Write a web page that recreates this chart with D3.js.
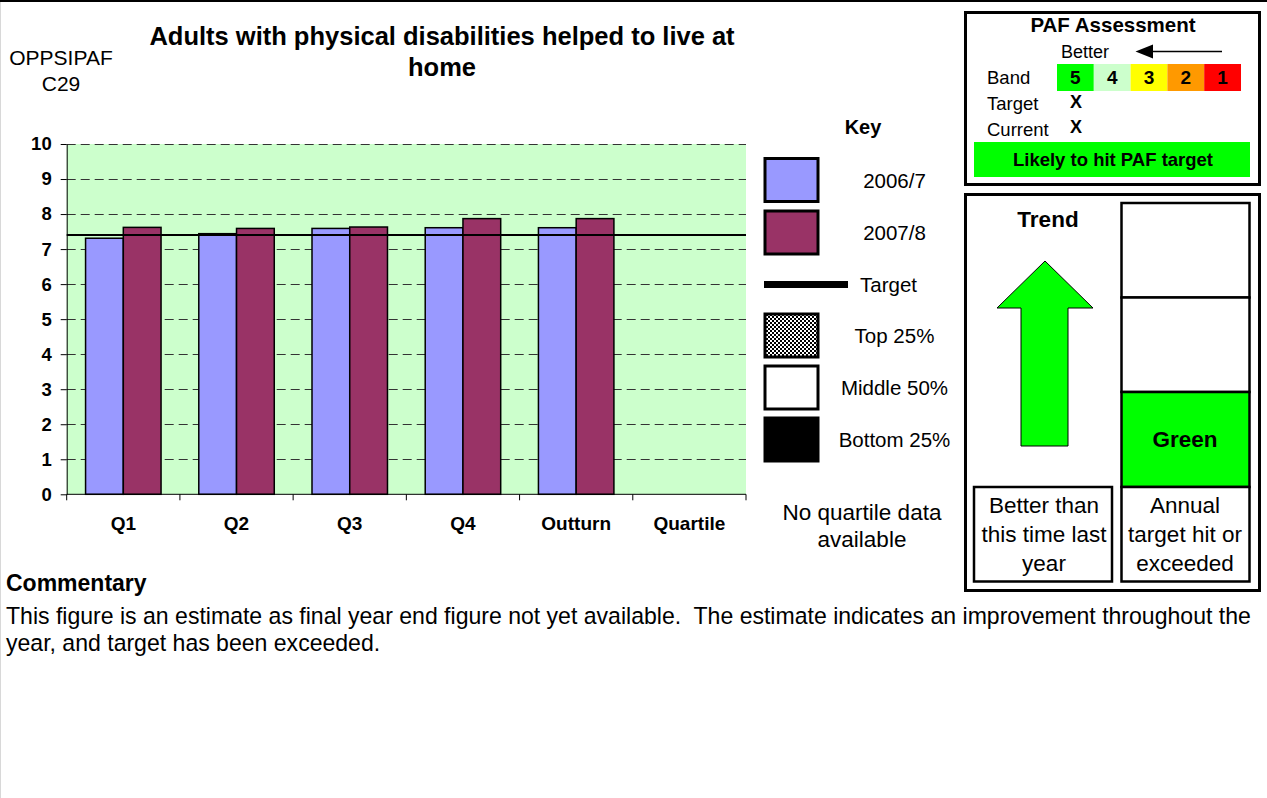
<!DOCTYPE html>
<html>
<head>
<meta charset="utf-8">
<script src="https://cdn.jsdelivr.net/npm/d3@7"></script>
<style>
  html, body { margin: 0; padding: 0; background: #fff; }
  svg { display: block; font-family: "Liberation Sans", Arial, sans-serif; }
  svg text { font-family: "Liberation Sans", Arial, sans-serif; }
</style>
</head>
<body>
<svg id="chart" width="1267" height="798"></svg>
<script>
// ---- data ----
const categories = ["Q1", "Q2", "Q3", "Q4", "Outturn", "Quartile"];
const values2006 = [7.31, 7.44, 7.59, 7.61, 7.61, null];
const values2007 = [7.62, 7.59, 7.63, 7.87, 7.87, null];
const targetValue = 7.4;
const yTickValues = [0, 1, 2, 3, 4, 5, 6, 7, 8, 9, 10];
const seriesNames = ["2006/7", "2007/8"];
const quartileNames = ["Top 25%", "Middle 50%", "Bottom 25%"];
const bandLabels = ["5", "4", "3", "2", "1"];
const bandColors = ["#00ff00", "#ccffcc", "#ffff00", "#ff9900", "#ff0000"];

const svg = d3.select("#chart");
const W = 1267, H = 798;

// page frame
svg.append("line").attr("x1", 0.5).attr("x2", 0.5).attr("y1", 0).attr("y2", H)
  .attr("stroke", "#d8d8d8").attr("stroke-width", 1);
svg.append("line").attr("x1", 0).attr("x2", W).attr("y1", 1).attr("y2", 1)
  .attr("stroke", "#000").attr("stroke-width", 2);

// defs: checker pattern
const defs = svg.append("defs");
const pat = defs.append("pattern").attr("id", "checker").attr("patternUnits", "userSpaceOnUse")
  .attr("width", 4).attr("height", 4);
pat.append("rect").attr("width", 4).attr("height", 4).attr("fill", "#fff");
pat.append("rect").attr("x", 0).attr("y", 0).attr("width", 2).attr("height", 2).attr("fill", "#000");
pat.append("rect").attr("x", 2).attr("y", 2).attr("width", 2).attr("height", 2).attr("fill", "#000");

// titles
svg.append("text").attr("x", 61).attr("y", 65).attr("text-anchor", "middle")
  .attr("font-size", 21).text("OPPSIPAF");
svg.append("text").attr("x", 61).attr("y", 91).attr("text-anchor", "middle")
  .attr("font-size", 21).text("C29");
const title = svg.append("text").attr("text-anchor", "middle").attr("font-weight", "bold").attr("font-size", 25.5);
title.append("tspan").attr("x", 442).attr("y", 45).text("Adults with physical disabilities helped to live at");
title.append("tspan").attr("x", 442).attr("y", 76).text("home");

// ---- chart ----
const plot = { left: 66.7, right: 746, top: 144, bottom: 494.3 };
const x = d3.scaleBand().domain(categories).range([plot.left, plot.right]).paddingInner(0).paddingOuter(0);
const inner = d3.scaleBand().domain(seriesNames).range([0, x.bandwidth()]).paddingInner(0).paddingOuter(0.5);
const y = d3.scaleLinear().domain([0, 10]).range([plot.bottom, plot.top]);

const g = svg.append("g");
g.append("rect").attr("x", plot.left).attr("y", plot.top)
  .attr("width", plot.right - plot.left).attr("height", plot.bottom - plot.top).attr("fill", "#ccffcc");

// gridlines
g.selectAll("line.grid").data(yTickValues.filter(d => d > 0)).join("line")
  .attr("class", "grid")
  .attr("x1", plot.left).attr("x2", plot.right)
  .attr("y1", d => Math.round(y(d)) + 0.5).attr("y2", d => Math.round(y(d)) + 0.5)
  .attr("stroke", "#333").attr("stroke-width", 1).attr("stroke-dasharray", "9,5");

// bars
const seriesData = [values2006, values2007];
const seriesFill = ["#9999ff", "#993366"];
seriesData.forEach((vals, si) => {
  g.selectAll("rect.s" + si).data(categories.map((c, i) => ({ c, v: vals[i] })).filter(d => d.v != null))
    .join("rect").attr("class", "s" + si)
    .attr("x", d => x(d.c) + inner(seriesNames[si]))
    .attr("y", d => y(d.v))
    .attr("width", inner.bandwidth())
    .attr("height", d => y(0) - y(d.v))
    .attr("fill", seriesFill[si]).attr("stroke", "#000").attr("stroke-width", 1.5);
});

// target line
g.append("line").attr("x1", plot.left).attr("x2", plot.right)
  .attr("y1", y(targetValue)).attr("y2", y(targetValue))
  .attr("stroke", "#000").attr("stroke-width", 2);

// y axis
const yAxis = d3.axisLeft(y).tickValues(yTickValues).tickSize(6).tickSizeOuter(0).tickPadding(9);
const yg = g.append("g").attr("transform", `translate(${plot.left},0)`).call(yAxis)
  .attr("font-size", 18.5).attr("font-family", "Liberation Sans, Arial, sans-serif");
yg.select(".domain").attr("stroke", "#000");
yg.selectAll("text").attr("font-weight", "bold").attr("fill", "#000");

// x axis (ticks at category boundaries)
const xg = g.append("g").attr("transform", `translate(0,${plot.bottom})`);
xg.append("line").attr("x1", plot.left).attr("x2", plot.right).attr("stroke", "#000").attr("stroke-width", 1);
const boundaries = categories.map(c => x(c)).concat([plot.right]);
xg.selectAll("line.tk").data(boundaries).join("line").attr("class", "tk")
  .attr("x1", d => d).attr("x2", d => d).attr("y1", 0).attr("y2", 6).attr("stroke", "#000");
xg.selectAll("text").data(categories).join("text")
  .attr("x", d => x(d) + x.bandwidth() / 2).attr("y", 35.5)
  .attr("text-anchor", "middle").attr("font-size", 19).attr("font-weight", "bold").text(d => d);

// ---- key ----
svg.append("text").attr("x", 863).attr("y", 134).attr("text-anchor", "middle")
  .attr("font-size", 20).attr("font-weight", "bold").text("Key");
const keyBoxes = [
  { y: 158.5, fill: seriesFill[0], label: seriesNames[0] },
  { y: 211, fill: seriesFill[1], label: seriesNames[1] },
  { y: 314, fill: "url(#checker)", label: quartileNames[0] },
  { y: 366, fill: "#fff", label: quartileNames[1] },
  { y: 418, fill: "#000", label: quartileNames[2] }
];
svg.selectAll("rect.key").data(keyBoxes).join("rect").attr("class", "key")
  .attr("x", 765).attr("y", d => d.y).attr("width", 53).attr("height", 43)
  .attr("fill", d => d.fill).attr("stroke", "#000").attr("stroke-width", 3);
svg.selectAll("text.key").data(keyBoxes).join("text").attr("class", "key")
  .attr("x", 894.5).attr("y", d => d.y + 29).attr("text-anchor", "middle")
  .attr("font-size", 20.5).text(d => d.label);
svg.append("rect").attr("x", 764).attr("y", 281).attr("width", 84).attr("height", 7).attr("fill", "#000");
svg.append("text").attr("x", 860).attr("y", 292).attr("font-size", 20.5).text("Target");
svg.append("text").attr("x", 862).attr("y", 520).attr("text-anchor", "middle").attr("font-size", 22.5).text("No quartile data");
svg.append("text").attr("x", 862).attr("y", 547).attr("text-anchor", "middle").attr("font-size", 22.5).text("available");

// ---- PAF assessment box ----
svg.append("rect").attr("x", 965.5).attr("y", 12.5).attr("width", 294).attr("height", 172)
  .attr("fill", "#fff").attr("stroke", "#000").attr("stroke-width", 3);
svg.append("text").attr("x", 1113).attr("y", 32).attr("text-anchor", "middle")
  .attr("font-size", 20.5).attr("font-weight", "bold").text("PAF Assessment");
svg.append("text").attr("x", 1061).attr("y", 58).attr("font-size", 18).text("Better");
svg.append("line").attr("x1", 1150).attr("x2", 1222).attr("y1", 51.5).attr("y2", 51.5)
  .attr("stroke", "#000").attr("stroke-width", 1.5);
svg.append("path").attr("d", "M1135.5,51.5 L1153,44.5 L1153,58.5 Z").attr("fill", "#000");
svg.append("text").attr("x", 987).attr("y", 84).attr("font-size", 18.5).text("Band");
const bandX = d3.scaleBand().domain(bandLabels).range([1057, 1241]);
svg.selectAll("rect.band").data(bandLabels).join("rect").attr("class", "band")
  .attr("x", d => bandX(d)).attr("y", 64).attr("width", bandX.bandwidth()).attr("height", 27)
  .attr("fill", (d, i) => bandColors[i]);
svg.selectAll("text.band").data(bandLabels).join("text").attr("class", "band")
  .attr("x", d => bandX(d) + bandX.bandwidth() / 2).attr("y", 84).attr("text-anchor", "middle")
  .attr("font-size", 19).attr("font-weight", "bold").text(d => d);
svg.append("text").attr("x", 987).attr("y", 110).attr("font-size", 18.5).text("Target");
svg.append("text").attr("x", 987).attr("y", 136).attr("font-size", 18.5).text("Current");
svg.append("text").attr("x", 1076).attr("y", 108).attr("text-anchor", "middle")
  .attr("font-size", 18).attr("font-weight", "bold").text("X");
svg.append("text").attr("x", 1076).attr("y", 133).attr("text-anchor", "middle")
  .attr("font-size", 18).attr("font-weight", "bold").text("X");
svg.append("rect").attr("x", 974).attr("y", 142).attr("width", 276).attr("height", 35).attr("fill", "#00ff00");
svg.append("text").attr("x", 1113).attr("y", 166).attr("text-anchor", "middle")
  .attr("font-size", 18.5).attr("font-weight", "bold").text("Likely to hit PAF target");

// ---- trend / RAG box ----
svg.append("rect").attr("x", 965.5).attr("y", 194.5).attr("width", 294).attr("height", 396)
  .attr("fill", "#fff").attr("stroke", "#000").attr("stroke-width", 3);
svg.append("text").attr("x", 1048).attr("y", 227).attr("text-anchor", "middle")
  .attr("font-size", 22.5).attr("font-weight", "bold").text("Trend");
svg.append("path")
  .attr("d", "M1045,261 L1093,308 L1068,308 L1068,446 L1021,446 L1021,308 L997,308 Z")
  .attr("fill", "#00ff00").attr("stroke", "#000").attr("stroke-width", 1);
const ragRows = [
  { y0: 203, y1: 297.5, fill: "#fff" },
  { y0: 297.5, y1: 392, fill: "#fff" },
  { y0: 392, y1: 487, fill: "#00ff00" }
];
svg.selectAll("rect.rag").data(ragRows).join("rect").attr("class", "rag")
  .attr("x", 1121.5).attr("y", d => d.y0).attr("width", 128).attr("height", d => d.y1 - d.y0)
  .attr("fill", d => d.fill).attr("stroke", "#000").attr("stroke-width", 2.5);
svg.append("text").attr("x", 1185).attr("y", 447).attr("text-anchor", "middle")
  .attr("font-size", 22.5).attr("font-weight", "bold").text("Green");
svg.append("rect").attr("x", 1121.5).attr("y", 487).attr("width", 128).attr("height", 94.5)
  .attr("fill", "#fff").attr("stroke", "#000").attr("stroke-width", 2.5);
svg.append("rect").attr("x", 974).attr("y", 487).attr("width", 138).attr("height", 94.5)
  .attr("fill", "#fff").attr("stroke", "#000").attr("stroke-width", 2.5);
const leftLines = ["Better than", "this time last", "year"];
const rightLines = ["Annual", "target hit or", "exceeded"];
leftLines.forEach((t, i) => svg.append("text").attr("x", 1044).attr("y", 513 + i * 29)
  .attr("text-anchor", "middle").attr("font-size", 22.5).text(t));
rightLines.forEach((t, i) => svg.append("text").attr("x", 1185).attr("y", 513 + i * 29)
  .attr("text-anchor", "middle").attr("font-size", 22.5).text(t));

// ---- commentary ----
svg.append("text").attr("x", 6).attr("y", 591).attr("font-size", 23).attr("font-weight", "bold").text("Commentary");
svg.append("text").attr("x", 6).attr("y", 624).attr("font-size", 23.05)
  .attr("xml:space", "preserve").style("white-space", "pre")
  .text("This figure is an estimate as final year end figure not yet available.  The estimate indicates an improvement throughout the");
svg.append("text").attr("x", 6).attr("y", 651).attr("font-size", 23.05).text("year, and target has been exceeded.");
</script>
</body>
</html>
